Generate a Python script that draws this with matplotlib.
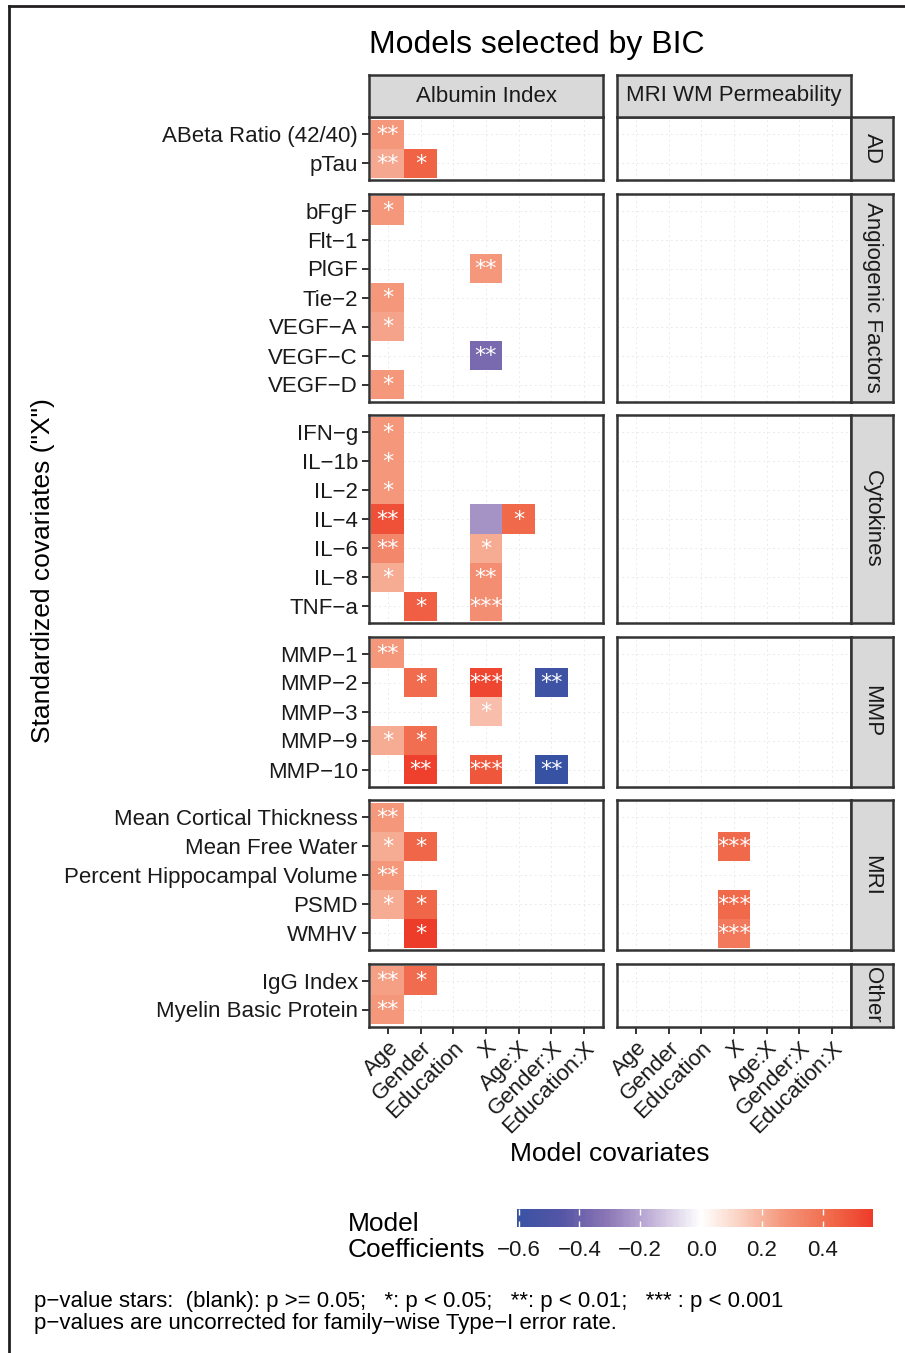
import matplotlib
matplotlib.use("Agg")
import matplotlib.pyplot as plt
import numpy as np
from matplotlib.colors import LinearSegmentedColormap, Normalize
from matplotlib.cm import ScalarMappable
from matplotlib.lines import Line2D

plt.rcParams['font.family'] = ['Liberation Sans', 'DejaVu Sans']

# ---- data ----
responses = ["Albumin Index", "MRI WM Permeability"]
covariates = ["Age", "Gender", "Education", "X", "Age:X", "Gender:X", "Education:X"]
groups = ["AD", "Angiogenic Factors", "Cytokines", "MMP", "MRI", "Other"]
group_rows = [
    ["ABeta Ratio (42/40)", "pTau"],
    ["bFgF", "Flt−1", "PlGF", "Tie−2", "VEGF−A", "VEGF−C", "VEGF−D"],
    ["IFN−g", "IL−1b", "IL−2", "IL−4", "IL−6", "IL−8", "TNF−a"],
    ["MMP−1", "MMP−2", "MMP−3", "MMP−9", "MMP−10"],
    ["Mean Cortical Thickness", "Mean Free Water", "Percent Hippocampal Volume", "PSMD", "WMHV"],
    ["IgG Index", "Myelin Basic Protein"],
]

cell_response = [0] * 41 + [1, 1, 1]
cell_variable = [
    "ABeta Ratio (42/40)", "pTau", "pTau",
    "bFgF", "PlGF", "Tie−2", "VEGF−A", "VEGF−C", "VEGF−D",
    "IFN−g", "IL−1b", "IL−2", "IL−4", "IL−4", "IL−4", "IL−6", "IL−6", "IL−8", "IL−8", "TNF−a", "TNF−a",
    "MMP−1", "MMP−2", "MMP−2", "MMP−2", "MMP−3", "MMP−9", "MMP−9", "MMP−10", "MMP−10", "MMP−10",
    "Mean Cortical Thickness", "Mean Free Water", "Mean Free Water", "Percent Hippocampal Volume",
    "PSMD", "PSMD", "WMHV",
    "IgG Index", "IgG Index", "Myelin Basic Protein",
    "Mean Free Water", "PSMD", "WMHV",
]
cell_covariate = [
    "Age", "Age", "Gender",
    "Age", "X", "Age", "Age", "X", "Age",
    "Age", "Age", "Age", "Age", "X", "Age:X", "Age", "X", "Age", "X", "Gender", "X",
    "Age", "Gender", "X", "Gender:X", "X", "Age", "Gender", "Gender", "X", "Gender:X",
    "Age", "Age", "Gender", "Age",
    "Age", "Gender", "Gender",
    "Age", "Gender", "Age",
    "X", "X", "X",
]
cell_coef = [
    0.27, 0.23, 0.45,
    0.27, 0.27, 0.27, 0.24, -0.36, 0.27,
    0.27, 0.27, 0.27, 0.50, -0.24, 0.43, 0.32, 0.22, 0.22, 0.30, 0.46, 0.30,
    0.27, 0.42, 0.53, -0.58, 0.17, 0.22, 0.41, 0.55, 0.48, -0.62,
    0.27, 0.22, 0.44, 0.27,
    0.22, 0.44, 0.56,
    0.25, 0.42, 0.27,
    0.43, 0.43, 0.37,
]
cell_stars = [
    "**", "**", "*",
    "*", "**", "*", "*", "**", "*",
    "*", "*", "*", "**", "", "*", "**", "*", "*", "**", "*", "***",
    "**", "*", "***", "**", "*", "*", "*", "**", "***", "**",
    "**", "*", "*", "**",
    "*", "*", "*",
    "**", "*", "**",
    "***", "***", "***",
]

cbar_lo, cbar_hi = -0.605, 0.565
cbar_ticks = [-0.6, -0.4, -0.2, 0.0, 0.2, 0.4]

# ---- colours: gradient2 style, white at zero ----
cmap = LinearSegmentedColormap.from_list("grad2", [
    (0.00, (55/255, 82/255, 163/255)),
    (0.13, (85/255, 85/255, 165/255)),
    (0.25, (140/255, 118/255, 182/255)),
    (0.38, (200/255, 185/255, 220/255)),
    (0.50, (1.0, 1.0, 1.0)),
    (0.60, (250/255, 210/255, 195/255)),
    (0.72, (244/255, 150/255, 122/255)),
    (0.86, (240/255, 100/255, 70/255)),
    (1.00, (236/255, 40/255, 28/255)),
])
norm = Normalize(vmin=-0.62, vmax=0.62)

W, H = 905, 1353
fig = plt.figure(figsize=(W / 100, H / 100), dpi=100)


def rect(x0, y0, x1, y1):
    return [x0 / W, 1 - y1 / H, (x1 - x0) / W, (y1 - y0) / H]


panel_x = [(369, 603), (617, 851)]
unit, pad, gap = 29.0, 2.5, 13.5
edge = '#333333'
strip_col = '#D9D9D9'

y_top = 117.0
for g, (gname, rows) in enumerate(zip(groups, group_rows)):
    n = len(rows)
    y_bot = y_top + n * unit + 2 * pad
    for r, (x0, x1) in enumerate(panel_x):
        ax = fig.add_axes(rect(x0, y_top, x1, y_bot))
        mat = np.full((n, len(covariates)), np.nan)
        labels = []
        for resp, var, cov, val, st in zip(cell_response, cell_variable, cell_covariate, cell_coef, cell_stars):
            if resp == r and var in rows:
                i, j = rows.index(var), covariates.index(cov)
                mat[i, j] = val
                labels.append((j, i, st))
        ax.set_axisbelow(True)
        ax.pcolormesh(np.arange(-0.5, len(covariates)), np.arange(-0.5, n), np.ma.masked_invalid(mat),
                      cmap=cmap, norm=norm, zorder=2)
        for j, i, st in labels:
            ax.text(j, i + 0.03, st, color='white', ha='center', va='center', fontsize=16,
                    family='DejaVu Sans', zorder=3)
        ax.set_xlim(-0.5 - pad / 32.8, len(covariates) - 0.5 + pad / 32.8)
        ax.set_ylim(n - 0.5 + pad / unit, -0.5 - pad / unit)
        ax.set_xticks(range(len(covariates)))
        ax.set_yticks(range(n))
        ax.grid(True, color='#EBEBEB', lw=0.7, ls=(0, (2, 3)))
        for s in ax.spines.values():
            s.set_color(edge)
            s.set_linewidth(1.8)
        ax.tick_params(length=5, width=1.4, color=edge, labelsize=16, labelcolor='#1A1A1A', pad=3)
        if r == 0:
            ax.set_yticklabels(rows)
        else:
            ax.set_yticklabels([])
            ax.tick_params(axis='y', length=0)
        if g == len(groups) - 1:
            ax.set_xticklabels(covariates, rotation=45, ha='right', va='top', rotation_mode='anchor')
        else:
            ax.set_xticklabels([])
            ax.tick_params(axis='x', length=0)
        # top strips
        if g == 0:
            sax = fig.add_axes(rect(x0, 75, x1, y_top))
            sax.set_facecolor(strip_col)
            sax.set_xticks([])
            sax.set_yticks([])
            for s in sax.spines.values():
                s.set_color(edge)
                s.set_linewidth(1.8)
            sax.text(0.5, 0.5, responses[r], ha='center', va='center', fontsize=16,
                     color='#1A1A1A', transform=sax.transAxes)
    # right strip
    sax = fig.add_axes(rect(851, y_top, 893, y_bot))
    sax.set_facecolor(strip_col)
    sax.set_xticks([])
    sax.set_yticks([])
    for s in sax.spines.values():
        s.set_color(edge)
        s.set_linewidth(1.8)
    sax.text(0.5, 0.5, gname, ha='center', va='center', rotation=-90, fontsize=16,
             color='#1A1A1A', transform=sax.transAxes)
    y_top = y_bot + gap

# titles
fig.text(369 / W, 1 - 45 / H, "Models selected by BIC", fontsize=23, ha='left', va='center')
fig.text(610 / W, 1 - 1154 / H, "Model covariates", fontsize=19, ha='center', va='center')
fig.text(43 / W, 1 - 571 / H, 'Standardized covariates ("X")', fontsize=19, rotation=90,
         ha='center', va='center')

# colour bar
cax = fig.add_axes(rect(517, 1209, 873, 1227))
sm = ScalarMappable(norm=norm, cmap=cmap)
cb = fig.colorbar(sm, cax=cax, orientation='horizontal',
                  boundaries=np.linspace(cbar_lo, cbar_hi, 300), ticks=cbar_ticks)
cb.outline.set_visible(False)
cax.tick_params(axis='x', direction='in', color='white', length=4, width=1, labelsize=16, pad=9,
                labelcolor='#1A1A1A', top=True)
cax.set_xticklabels([f"{t:.1f}".replace("-", "−") for t in cbar_ticks])
fig.text(348 / W, 1 - 1237 / H, "Model\nCoefficients", fontsize=19, ha='left', va='center',
         linespacing=1.1)

# caption
fig.text(34 / W, 1 - 1301 / H,
         "p−value stars:  (blank): p >= 0.05;   *: p < 0.05;   **: p < 0.01;   *** : p < 0.001",
         fontsize=16, ha='left', va='center')
fig.text(34 / W, 1 - 1323 / H, "p−values are uncorrected for family−wise Type−I error rate.",
         fontsize=16, ha='left', va='center')

# frame lines (top and left only)
fig.add_artist(Line2D([8.5 / W, 8.5 / W], [0, 1 - 6 / H], color='#231F20', lw=2))
fig.add_artist(Line2D([8.5 / W, 1], [1 - 6 / H, 1 - 6 / H], color='#231F20', lw=2))

fig.savefig("out.png", dpi=100)
